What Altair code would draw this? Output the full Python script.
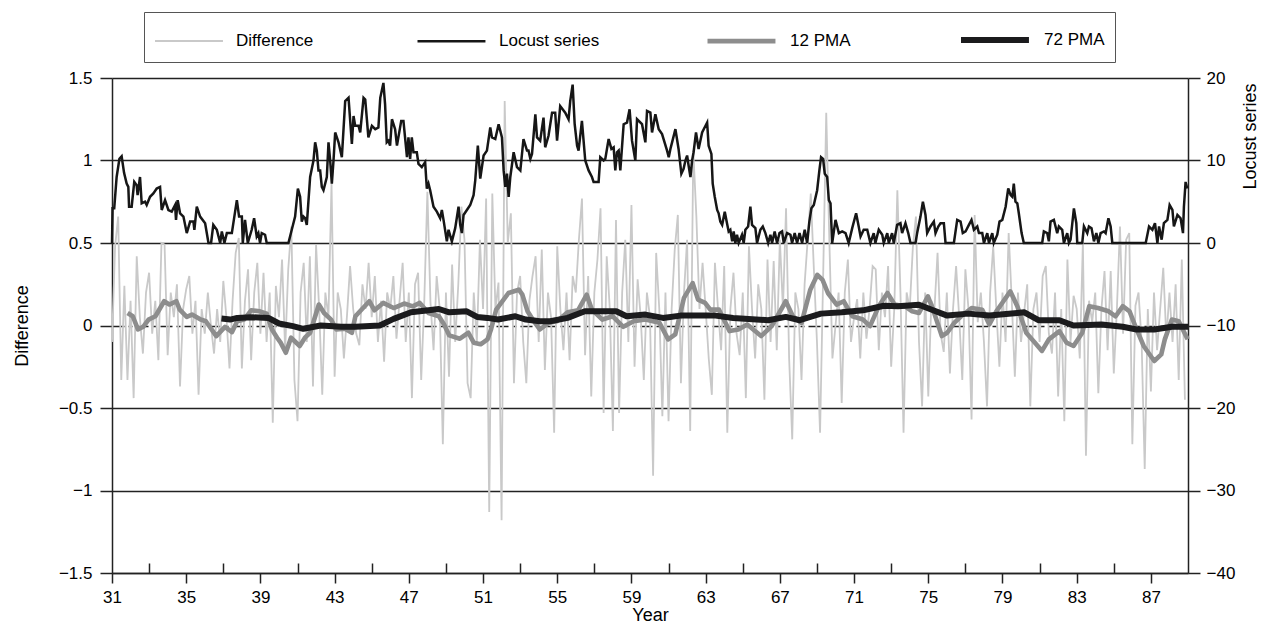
import altair as alt
import pandas as pd

# ---------------- data ----------------
# Difference series, bi-monthly readings starting at year 31.0
diff_start = 31.0
diff_per_year = 6
diff_vals = [
    -0.10, 0.48, 0.66, -0.33, 0.24, -0.33,   # 31
    0.15, -0.44, 0.42, 0.05, -0.17, 0.20,    # 32
    0.32, -0.05, 0.15, -0.21, 0.50, 0.49,    # 33
    -0.18, 0.20, 0.05, 0.25, -0.37, 0.10,    # 34
    0.22, 0.30, -0.05, 0.15, -0.42, 0.10,    # 35
    -0.05, 0.20, 0.00, -0.17, 0.10, -0.10,   # 36
    0.27, 0.05, -0.26, 0.15, 0.44, 0.53,     # 37
    -0.26, 0.15, 0.34, -0.21, 0.20, 0.38,    # 38
    -0.05, 0.32, -0.10, 0.20, -0.59, 0.24,   # 39
    0.05, 0.40, -0.15, 0.34, 0.60, -0.33,    # 40
    -0.58, 0.20, 0.38, -0.10, 0.42, -0.37,   # 41
    0.49, 0.10, -0.42, 0.20, 0.05, 0.86,     # 42
    -0.31, 0.20, 0.10, -0.20, 0.06, 0.36,    # 43
    0.10, -0.05, -0.12, 0.25, 0.10, 0.38,    # 44
    0.05, 0.30, -0.10, 0.15, -0.22, 0.20,    # 45
    0.10, 0.30, -0.08, 0.15, 0.38, -0.10,    # 46
    0.20, -0.44, 0.25, 0.32, -0.33, 0.15,    # 47
    0.81, 0.14, -0.15, 0.30, 0.10, -0.72,    # 48
    0.20, -0.31, 0.37, -0.10, 0.25, 0.72,    # 49
    0.52, -0.35, -0.44, 0.20, -0.10, 0.52,   # 50
    0.10, 0.77, -1.13, 0.80, 0.10, 0.26,     # 51
    -1.18, 1.36, 0.50, 0.68, -0.35, 0.20,    # 52
    0.30, -0.10, -0.35, 0.15, 0.30, 0.42,    # 53
    -0.10, 0.46, -0.27, 0.20, 0.05, -0.65,   # 54
    0.48, 0.10, -0.15, 0.20, -0.21, 0.30,    # 55
    0.20, 0.52, 0.77, -0.18, 0.30, -0.43,    # 56
    0.20, 0.40, 0.71, -0.53, 0.42, 0.10,     # 57
    -0.64, 0.64, -0.53, 0.20, 0.52, -0.10,   # 58
    0.73, -0.25, 0.28, 0.05, -0.33, 0.20,    # 59
    0.05, -0.91, 0.44, 0.10, -0.55, 0.20,    # 60
    -0.58, 0.10, 0.46, 0.67, -0.35, 0.20,    # 61
    0.52, -0.64, 1.06, 0.66, 0.10, 0.38,     # 62
    0.10, -0.20, -0.42, 0.38, 0.10, -0.15,   # 63
    0.36, -0.65, 0.10, 0.32, -0.05, -0.18,   # 64
    0.20, -0.44, 0.48, 0.10, -0.20, 0.25,    # 65
    0.10, -0.45, 0.40, -0.10, 0.39, -0.15,   # 66
    0.52, 0.10, 0.71, -0.20, -0.69, 0.20,    # 67
    0.10, -0.33, 0.25, 0.52, 0.80, 0.34,     # 68
    -0.10, -0.65, 0.30, 1.29, 0.52, -0.20,   # 69
    0.00, 0.20, -0.47, 0.20, 0.40, -0.10,    # 70
    0.05, 0.16, -0.20, 0.20, -0.08, 0.10,    # 71
    0.36, 0.34, -0.15, 0.20, 0.05, 0.36,     # 72
    -0.25, 0.10, 0.82, 0.20, -0.65, 0.20,    # 73
    0.10, 0.47, 0.66, -0.10, -0.49, 0.20,    # 74
    -0.43, 0.15, 0.10, 0.44, -0.05, -0.16,   # 75
    0.20, -0.29, 0.10, 0.36, 0.05, -0.33,    # 76
    0.34, 0.10, -0.57, 0.67, 0.02, 0.20,     # 77
    -0.10, -0.49, 0.20, 0.48, 0.10, -0.25,   # 78
    0.20, -0.10, 0.56, 0.15, -0.31, 0.20,    # 79
    -0.10, 0.08, 0.25, -0.49, 0.10, 0.20,    # 80
    -0.10, 0.30, 0.36, -0.05, -0.17, 0.20,   # 81
    -0.43, 0.10, -0.58, 0.40, -0.10, 0.18,   # 82
    0.10, -0.20, 0.50, -0.79, 0.15, 0.02,    # 83
    0.20, -0.41, 0.10, 0.33, -0.15, 0.33,    # 84
    -0.29, 0.10, 0.60, -0.05, 0.52, 0.56,    # 85
    -0.72, 0.12, 0.20, -0.10, -0.87, 0.10,   # 86
    -0.40, 0.20, -0.15, 0.10, 0.35, -0.08,   # 87
    0.20, -0.10, 0.25, -0.33, 0.40, -0.45,   # 88
]

pma12_year = [31.84, 32.12, 32.40, 32.68, 32.97, 33.34, 33.81, 34.09, 34.47, 34.65,
              35.03, 35.31, 35.78, 36.06, 36.62, 37.09, 37.47, 37.75, 38.12, 38.50,
              38.97, 39.34, 39.62, 39.90, 40.09, 40.37, 40.65, 41.12, 41.40, 41.68,
              42.15, 42.43, 42.81, 43.09, 43.56, 43.93, 44.12, 44.87, 45.15, 45.62,
              46.18, 46.75, 47.21, 47.59, 48.06, 48.62, 48.90, 49.18, 49.75, 50.21,
              50.50, 50.87, 51.24, 51.43, 51.71, 52.37, 52.93, 53.12, 53.40, 53.68,
              54.06, 54.53, 54.99, 55.56, 56.12, 56.59, 56.87, 57.43, 57.99, 58.56,
              59.12, 59.75, 60.51, 60.98, 61.36, 61.83, 62.30, 62.59, 62.97, 63.25,
              63.72, 64.29, 64.76, 65.24, 65.99, 66.56, 67.32, 67.70, 68.17, 68.64,
              69.02, 69.30, 69.59, 70.06, 70.44, 70.91, 71.48, 71.86, 72.33, 72.80,
              73.18, 73.75, 74.13, 74.50, 74.98, 75.26, 75.73, 76.02, 76.40, 76.77,
              77.34, 77.91, 78.29, 78.67, 79.05, 79.42, 79.80, 80.28, 80.75, 81.13,
              81.50, 82.07, 82.45, 82.83, 83.30, 83.68, 84.15, 84.72, 85.10, 85.48,
              85.85, 86.23, 86.61, 87.18, 87.56, 87.75, 88.13, 88.50, 88.98]
pma12_val = [0.076, 0.056, -0.024, -0.008, 0.036, 0.056, 0.147, 0.127, 0.147, 0.096,
             0.052, 0.066, 0.036, 0.026, -0.064, -0.008, -0.040, 0.026, 0.036, 0.092,
             0.086, 0.072, -0.024, -0.074, -0.104, -0.165, -0.074, -0.124, -0.074, -0.044,
             0.127, 0.076, 0.036, -0.024, -0.020, -0.044, 0.056, 0.147, 0.092, 0.137,
             0.106, 0.133, 0.116, 0.137, 0.076, 0.056, 0.006, -0.060, -0.080, -0.044,
             -0.104, -0.114, -0.084, -0.024, 0.096, 0.197, 0.217, 0.187, 0.086, 0.036,
             -0.024, 0.016, 0.026, 0.080, 0.092, 0.187, 0.096, 0.036, 0.056, -0.008,
             0.026, 0.036, 0.016, -0.084, -0.054, 0.167, 0.257, 0.157, 0.137, 0.096,
             0.096, -0.034, -0.024, 0.006, -0.064, -0.004, 0.147, 0.056, 0.016, 0.217,
             0.307, 0.277, 0.197, 0.127, 0.147, 0.056, 0.036, -0.004, 0.116, 0.197,
             0.127, 0.116, 0.086, 0.076, 0.177, 0.096, -0.064, -0.044, 0.016, 0.056,
             0.106, 0.096, 0.006, 0.086, 0.147, 0.207, 0.117, -0.044, -0.104, -0.154,
             -0.084, -0.034, -0.104, -0.124, -0.044, 0.117, 0.106, 0.086, 0.056, 0.117,
             0.086, -0.024, -0.124, -0.215, -0.175, -0.084, 0.036, 0.026, -0.084]

pma72_year = [36.90, 37.37, 37.75, 38.50, 39.43, 40.00, 40.75, 41.31, 42.25, 43.37,
              44.12, 45.43, 46.18, 47.12, 48.06, 48.62, 49.18, 50.12, 50.68, 51.24,
              51.81, 52.74, 53.31, 54.06, 54.62, 55.56, 56.49, 57.43, 58.18, 58.74,
              59.75, 60.70, 61.64, 63.53, 64.48, 66.37, 67.32, 68.07, 69.21, 70.34,
              71.48, 72.61, 73.37, 74.50, 75.26, 76.02, 77.15, 78.29, 79.80, 80.18,
              80.94, 82.07, 82.83, 84.34, 85.48, 86.23, 87.18, 88.13, 89.00]
pma72_val = [0.042, 0.036, 0.046, 0.050, 0.046, 0.012, -0.004, -0.020, 0.000, -0.008,
             -0.008, 0.000, 0.040, 0.080, 0.092, 0.100, 0.080, 0.086, 0.052, 0.046,
             0.036, 0.056, 0.036, 0.026, 0.026, 0.046, 0.086, 0.086, 0.086, 0.056,
             0.066, 0.046, 0.060, 0.060, 0.046, 0.032, 0.052, 0.032, 0.072, 0.080,
             0.092, 0.120, 0.116, 0.126, 0.092, 0.060, 0.072, 0.060, 0.076, 0.080,
             0.032, 0.032, 0.000, 0.006, -0.008, -0.024, -0.024, -0.008, -0.008]

loc_year = [31.00, 31.03, 31.12, 31.25, 31.40, 31.52, 31.65, 31.79, 31.88, 31.92,
            32.06, 32.20, 32.33, 32.38, 32.51, 32.60, 32.78, 32.87, 33.05, 33.23,
            33.41, 33.59, 33.68, 33.86, 34.04, 34.22, 34.40, 34.45, 34.54, 34.67,
            34.85, 35.03, 35.21, 35.39, 35.44, 35.57, 35.75, 36.02, 36.20, 36.34,
            36.46, 36.65, 36.83, 36.92, 37.06, 37.19, 37.46, 37.73, 37.85, 38.00,
            38.05, 38.17, 38.32, 38.53, 38.66, 38.80, 38.89, 38.98, 39.07, 39.25,
            39.34, 40.51, 40.69, 40.87, 41.02, 41.14, 41.23, 41.32, 41.41, 41.50,
            41.68, 41.86, 41.95, 42.04, 42.13, 42.22, 42.31, 42.40, 42.58, 42.67,
            42.76, 42.85, 42.94, 43.03, 43.21, 43.39, 43.57, 43.75, 43.84, 43.93,
            44.02, 44.11, 44.29, 44.38, 44.56, 44.65, 44.82, 45.01, 45.19, 45.36,
            45.46, 45.63, 45.72, 45.81, 45.90, 45.99, 46.09, 46.26, 46.36, 46.59,
            46.71, 46.90, 46.98, 47.07, 47.16, 47.25, 47.43, 47.52, 47.70, 47.88,
            47.97, 48.06, 48.15, 48.33, 48.51, 48.69, 48.78, 48.87, 49.05, 49.14,
            49.32, 49.50, 49.68, 49.77, 49.86, 49.95, 50.13, 50.31, 50.49, 50.58,
            50.72, 50.85, 51.03, 51.21, 51.39, 51.48, 51.66, 51.84, 52.02, 52.11,
            52.20, 52.29, 52.38, 52.47, 52.65, 52.83, 53.01, 53.10, 53.18, 53.37,
            53.45, 53.55, 53.64, 53.82, 53.91, 54.08, 54.26, 54.35, 54.53, 54.72,
            54.89, 54.99, 55.16, 55.43, 55.61, 55.70, 55.83, 55.94, 56.07, 56.15,
            56.33, 56.51, 56.69, 56.87, 56.96, 57.23, 57.32, 57.50, 57.59, 57.77,
            57.92, 58.04, 58.13, 58.22, 58.31, 58.40, 58.49, 58.58, 58.76, 58.90,
            59.03, 59.21, 59.30, 59.57, 59.75, 59.84, 60.02, 60.11, 60.29, 60.47,
            60.65, 60.92, 61.01, 61.10, 61.19, 61.37, 61.54, 61.69, 61.81, 61.91,
            62.00, 62.08, 62.18, 62.27, 62.35, 62.48, 62.62, 62.81, 63.08, 63.16,
            63.31, 63.38, 63.49, 63.62, 63.70, 63.79, 63.89, 64.03, 64.15, 64.24,
            64.33, 64.43, 64.51, 64.60, 64.69, 64.78, 64.96, 65.05, 65.14, 65.29,
            65.41, 65.50, 65.68, 65.77, 65.95, 66.08, 66.22, 66.37, 66.49, 66.58,
            66.72, 66.85, 66.98, 67.12, 67.21, 67.39, 67.57, 67.66, 67.80, 67.93,
            68.06, 68.20, 68.34, 68.47, 68.59, 68.70, 68.83, 69.01, 69.13, 69.22,
            69.33, 69.42, 69.55, 69.64, 69.73, 69.82, 70.00, 70.18, 70.36, 70.54,
            70.71, 70.90, 71.11, 71.25, 71.35, 71.52, 71.71, 71.88, 72.06, 72.15,
            72.33, 72.52, 72.60, 72.79, 72.87, 73.05, 73.14, 73.32, 73.50, 73.59,
            73.77, 73.92, 74.04, 74.31, 74.40, 74.58, 74.71, 74.85, 74.94, 75.12,
            75.30, 75.39, 75.54, 75.66, 75.84, 75.93, 76.38, 76.56, 76.74, 76.86,
            77.01, 77.19, 77.33, 77.46, 77.64, 77.73, 77.91, 78.00, 78.18, 78.27,
            78.45, 78.53, 78.72, 78.84, 78.99, 79.17, 79.31, 79.44, 79.53, 79.61,
            79.70, 79.80, 79.88, 80.03, 80.15, 81.14, 81.23, 81.41, 81.50, 81.59,
            81.77, 81.86, 81.95, 82.04, 82.22, 82.31, 82.49, 82.58, 82.67, 82.85,
            82.98, 83.03, 83.30, 83.39, 83.57, 83.66, 83.80, 83.93, 84.06, 84.17,
            84.29, 84.47, 84.56, 84.71, 84.83, 84.92, 86.72, 86.90, 87.08, 87.22,
            87.35, 87.44, 87.58, 87.70, 87.89, 88.01, 88.16, 88.24, 88.43, 88.60,
            88.73, 88.78, 88.87, 88.96]
loc_val = [0.0, 4.2, 4.2, 8.0, 10.2, 10.5, 8.5, 7.2, 6.8, 4.4,
           4.4, 7.4, 7.0, 5.8, 8.0, 4.8, 5.0, 4.6, 5.6, 6.0,
           6.6, 6.8, 4.0, 5.2, 4.0, 3.8, 4.6, 2.8, 5.2, 3.6,
           3.2, 1.2, 2.6, 2.6, 1.6, 4.4, 3.2, 2.4, 0.0, 0.0,
           2.2, 1.6, 0.0, 1.4, 0.0, 1.2, 1.2, 5.2, 3.2, 3.2,
           0.0, 2.8, 0.0, 1.6, 3.0, 0.8, 1.2, 0.0, 1.2, 1.0,
           0.0, 0.0, 1.6, 3.2, 6.6, 5.6, 2.6, 3.2, 3.0, 2.2,
           8.0, 10.0, 12.2, 11.2, 8.8, 8.8, 6.8, 6.4, 8.0, 12.2,
           10.0, 7.2, 10.0, 13.4, 12.2, 10.4, 17.2, 17.6, 14.8, 12.0,
           15.4, 14.2, 14.2, 13.4, 17.6, 17.4, 12.8, 14.2, 13.8, 14.0,
           17.6, 19.4, 16.8, 12.2, 12.4, 11.8, 15.0, 13.8, 11.8, 14.8,
           14.8, 10.4, 12.8, 10.2, 12.8, 11.0, 11.0, 9.6, 9.2, 9.8,
           6.6, 7.2, 6.4, 4.4, 3.8, 3.0, 4.0, 2.8, 0.2, 1.6,
           0.2, 1.8, 4.4, 2.2, 1.2, 3.4, 4.0, 4.6, 5.8, 7.6,
           11.8, 7.8, 10.6, 11.2, 14.0, 12.8, 12.6, 14.4, 12.8, 8.8,
           6.8, 8.4, 5.6, 8.0, 11.0, 9.2, 8.8, 10.8, 12.6, 11.2,
           11.2, 10.2, 10.8, 15.6, 12.8, 12.4, 15.2, 11.6, 13.0, 15.8,
           15.8, 12.4, 16.6, 15.8, 15.0, 17.2, 19.2, 14.4, 11.8, 11.2,
           14.8, 10.0, 8.8, 8.0, 7.4, 7.4, 10.4, 10.0, 10.2, 12.6,
           11.4, 11.6, 8.8, 11.0, 11.2, 8.8, 11.6, 14.4, 14.6, 16.2,
           12.4, 10.0, 15.0, 14.4, 12.2, 16.0, 15.8, 13.4, 15.6, 13.8,
           13.2, 11.2, 10.4, 11.4, 12.2, 13.8, 11.4, 8.4, 9.0, 10.0,
           10.6, 9.4, 8.0, 10.0, 11.0, 13.4, 11.4, 13.4, 14.6, 11.8,
           10.8, 7.2, 5.6, 4.0, 3.6, 2.6, 2.2, 3.8, 2.4, 1.4,
           1.6, 0.2, 1.4, 0.0, 1.0, 0.0, 1.0, 0.0, 1.6, 2.0,
           4.4, 2.2, 1.8, 0.0, 1.6, 2.0, 1.2, 0.0, 1.0, 0.0,
           1.4, 0.0, 1.2, 1.4, 0.0, 1.2, 1.0, 0.0, 1.2, 0.0,
           1.2, 0.0, 1.6, 0.0, 2.6, 4.2, 4.6, 6.4, 8.8, 10.4,
           10.2, 8.4, 8.0, 5.2, 4.8, 0.0, 2.8, 1.2, 1.4, 1.2,
           0.0, 1.8, 3.6, 2.0, 0.8, 1.6, 1.6, 0.0, 1.2, 0.0,
           1.6, 1.0, 0.0, 1.2, 0.0, 1.2, 0.0, 2.2, 2.4, 1.2,
           2.4, 1.2, 0.0, 0.0, 1.2, 3.2, 5.0, 3.4, 1.2, 2.0,
           2.6, 1.2, 2.0, 2.4, 2.4, 0.0, 0.0, 2.8, 2.6, 1.2,
           1.4, 2.2, 2.8, 1.6, 2.0, 1.2, 1.2, 0.0, 1.2, 0.0,
           1.2, 0.0, 1.0, 2.6, 2.8, 4.4, 6.6, 5.8, 5.6, 7.2,
           5.0, 4.8, 3.6, 1.2, 0.0, 0.0, 1.4, 1.2, 0.2, 2.6,
           2.8, 2.0, 1.2, 2.0, 1.6, 0.0, 1.2, 0.0, 0.4, 4.2,
           2.4, 0.0, 0.0, 2.0, 1.2, 2.0, 1.8, 0.2, 1.2, 0.0,
           1.2, 1.4, 1.2, 3.0, 2.0, 0.0, 0.0, 2.0, 1.6, 2.4,
           0.0, 2.0, 0.4, 2.4, 2.8, 4.6, 4.0, 2.0, 3.4, 3.0,
           1.2, 4.4, 7.4, 6.6]

series_names = ["Difference", "Locust series", "12 PMA", "72 PMA"]
# scale domain with spacer slots so that the evenly spaced width scale gives each
# series its own line weight; the spacers never appear in the data or the legend
scale_domain = ["Difference", "Locust series", "_s1", "_s2", "12 PMA", "_s3", "72 PMA"]
scale_colors = ["#c9c9c9", "#161616", "#000000", "#000000", "#8d8d8d", "#000000", "#1b1b1d"]
width_range = [1.8, 6.0]

x_major = list(range(31, 88, 4))
x_minor = list(range(33, 86, 4))
left_ticks = [-1.5, -1, -0.5, 0, 0.5, 1, 1.5]
right_ticks = [-40, -30, -20, -10, 0, 10, 20]

FONT = "Liberation Sans"

# ---------------- tables ----------------
diff_df = pd.DataFrame({
    "year": [diff_start + i / diff_per_year for i in range(len(diff_vals))],
    "value": diff_vals,
    "series": "Difference",
})
p12_df = pd.DataFrame({"year": pma12_year, "value": pma12_val, "series": "12 PMA"})
p72_df = pd.DataFrame({"year": pma72_year, "value": pma72_val, "series": "72 PMA"})
loc_df = pd.DataFrame({"year": loc_year, "locust": loc_val, "series": "Locust series"})

legend = alt.Legend(
    title=None, orient="none", legendX=32, legendY=-66, direction="horizontal",
    values=series_names,
    symbolType="M-1,0H3.53", symbolSize=900, symbolFillColor="transparent",
    labelFont=FONT, labelFontSize=17, labelColor="black", labelOffset=50,
    labelLimit=400, columnPadding=98, padding=10,
    strokeColor="#555555", fillColor="white",
)
color = alt.Color("series:O", scale=alt.Scale(type="ordinal", domain=scale_domain, range=scale_colors),
                  legend=legend)
width_enc = alt.StrokeWidth("series:O", scale=alt.Scale(type="point", domain=scale_domain,
                                                        range=width_range, padding=0),
                            legend=legend)

x_scale = alt.Scale(domain=[31, 89], nice=False, zero=False)
x_main = alt.X(
    "year:Q", scale=x_scale,
    axis=alt.Axis(values=x_major, format="d", title="Year", grid=False,
                  tickSize=10, labelPadding=6, titleY=47, titleBaseline="alphabetic",
                  labelFlush=False),
)
y_left = alt.Y(
    "value:Q", scale=alt.Scale(domain=[-1.5, 1.5], nice=False, zero=False),
    axis=alt.Axis(values=left_ticks, format="~g", title="Difference", grid=True,
                  gridColor="#222222", gridWidth=1.3,
                  gridDash={"condition": {"test": "datum.value === 0", "value": [12, 4, 4, 4]}, "value": []},
                  tickSize=12, labelPadding=8, titleAngle=270, titleX=-90, titleY=247.5,
                  titleAlign="center", titleBaseline="middle", labelFlush=False),
)

diff_line = alt.Chart(diff_df).mark_line().encode(x=x_main, y=y_left, color=color, strokeWidth=width_enc)
p12_line = alt.Chart(p12_df).mark_line(strokeJoin="round").encode(x=x_main, y=y_left, color=color, strokeWidth=width_enc)
p72_line = alt.Chart(p72_df).mark_line(strokeJoin="round").encode(x=x_main, y=y_left, color=color, strokeWidth=width_enc)

left_group = alt.layer(diff_line, p12_line, p72_line)

loc_line = alt.Chart(loc_df).mark_line().encode(
    x=alt.X("year:Q", scale=x_scale,
            axis=alt.Axis(orient="top", offset=-495, values=x_minor, labels=False,
                          domain=False, grid=False, tickSize=10, title=None)),
    y=alt.Y("locust:Q", scale=alt.Scale(domain=[-40, 20], nice=False, zero=False),
            axis=alt.Axis(orient="right", values=right_ticks, format="d", title="Locust series",
                          grid=False, tickSize=12, labelPadding=6, titleAngle=270,
                          titleX=62, titleY=58, titleAlign="center", titleBaseline="middle",
                          labelFlush=False)),
    color=color,
    strokeWidth=width_enc,
)

chart = (
    alt.layer(left_group, loc_line)
    .resolve_scale(y="independent")
    .resolve_axis(x="independent", y="independent")
    .properties(
        width=1076, height=495,
        padding={"left": 104, "top": 70, "right": 75, "bottom": 56},
        autosize=alt.AutoSizeParams(type="none"),
    )
    .configure_view(stroke=None)
    .configure_axis(
        labelFont=FONT, labelFontSize=17, labelColor="black",
        titleFont=FONT, titleFontSize=18, titleColor="black", titleFontWeight="normal",
        domainColor="#222222", domainWidth=1.5, tickColor="#222222", tickWidth=1.5,
    )
)

chart.save("out.html", embed_options={"renderer": "svg", "actions": False})
